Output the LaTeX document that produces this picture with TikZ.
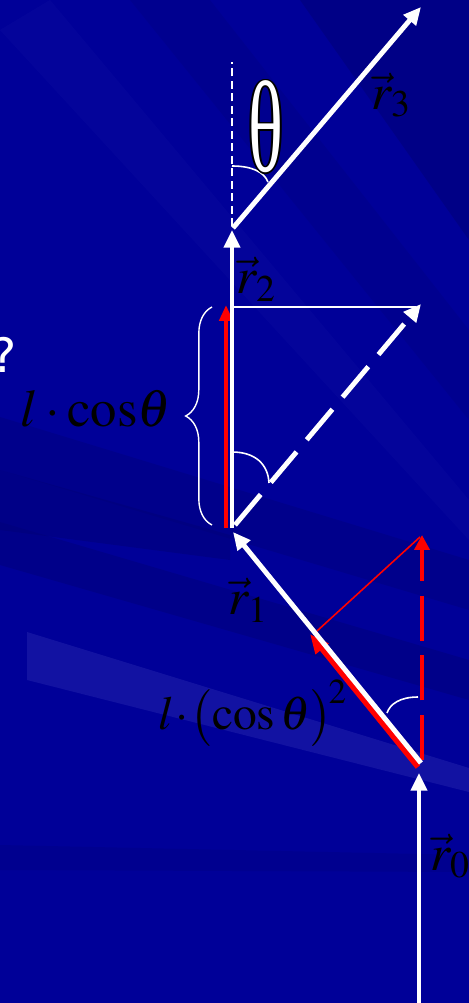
\documentclass[tikz,border=0pt]{standalone}
\usepackage{mathptmx}
\usepackage{fontspec}
\setmainfont{Liberation Serif}
\newfontfamily\qfont{DejaVu Sans}
\newfontfamily\thfont{Liberation Serif}
\usetikzlibrary{arrows.meta,decorations.pathreplacing}
\definecolor{bgblue}{RGB}{0,0,152}
\definecolor{bgdark}{RGB}{0,0,120}
\definecolor{bglight}{RGB}{40,40,175}
\newcommand\bigtxt{\fontsize{29}{32}\selectfont}
\newcommand\vr[1]{\vec{r}_{#1}}
\begin{document}
\begin{tikzpicture}[x=0.02cm,y=-0.02cm,
  wvec/.style={draw=white,line width=2.8pt,-{Triangle[length=10pt,width=9pt]}},
  rvec/.style={draw=red,line width=2.8pt},
  thin white/.style={draw=white,line width=1.1pt},
  anglearc/.style={draw=white,line width=0.9pt},
  lbl/.style={text=black,font=\bigtxt,inner sep=0pt}]
\useasboundingbox (0,0) rectangle (469,1003);
\clip (0,0) rectangle (469,1003);
% background
\fill[bgblue] (0,0) rectangle (469,1003);
\fill[bgdark,opacity=0.55] (300,0) -- (469,0) -- (469,240) -- cycle;
\fill[bgdark,opacity=0.25] (130,0) -- (210,0) -- (469,330) -- (469,420) -- cycle;
\fill[bglight,opacity=0.12] (0,30) -- (50,0) -- (469,500) -- (469,540) -- cycle;
\fill[bgdark,opacity=0.4] (0,417) -- (469,560) -- (469,610) -- (0,470) -- cycle;
\fill[bgdark,opacity=0.5] (0,470) -- (230,535) -- (230,560) -- (0,530) -- cycle;
\fill[bgdark,opacity=0.45] (0,522) -- (469,660) -- (469,700) -- (0,565) -- cycle;
\fill[bglight,opacity=0.45] (27,632) -- (469,768) -- (469,792) -- (27,680) -- cycle;
\fill[bgdark,opacity=0.25] (0,845) -- (469,855) -- (469,872) -- (0,870) -- cycle;
% coordinates
\coordinate (O0) at (419,1010);
\coordinate (T0) at (419,773);
\coordinate (B) at (421,763);
\coordinate (T1) at (233,532);
\coordinate (C) at (232,528);
\coordinate (T2) at (232,230);
\coordinate (D) at (233,228);
\coordinate (T3) at (421,7);
\coordinate (Vt) at (232,62);
\coordinate (Vb) at (232,226);
\coordinate (H1) at (233,307);
\coordinate (H2) at (416,307);
\coordinate (W1) at (235,525);
\coordinate (W2) at (421,304);
\coordinate (R1) at (226,528);
\coordinate (R2) at (226,305);
\coordinate (S1) at (418,767);
\coordinate (S2) at (310,634);
\coordinate (Q1) at (422,760);
\coordinate (Q2) at (422,535);
\coordinate (N1) at (317,631);
\coordinate (N2) at (420,537);
\coordinate (BrB) at (212,525);
\coordinate (BrT) at (212,307);
% dashed vertical reference line
\draw[white,line width=0.9pt,dash pattern=on 4.5pt off 2.6pt] (Vb) -- (Vt);
% horizontal thin line
\draw[thin white] (H1) -- (H2);
% red components
\draw[rvec,-{Triangle[length=9pt,width=7.4pt]}] (R1) -- (R2);
\draw[rvec,line width=3.2pt,-{Triangle[length=11pt,width=9pt]}] (S1) -- (S2);
\draw[rvec,dash pattern=on 25.5pt off 8.5pt,-{Triangle[length=8.5pt,width=8.5pt]}] (Q1) -- (Q2);
\draw[red,line width=0.9pt] (N1) -- (N2);
% white vectors
\draw[wvec] (O0) -- (T0);
\draw[wvec] (B) -- (T1);
\draw[wvec,line width=2.4pt] (C) -- (T2);
\draw[wvec] (D) -- (T3);
\draw[wvec,dash pattern=on 22.7pt off 9pt] (W1) -- (W2);
% angle arcs
\draw[anglearc] (232,166) .. controls (252,166) and (264,172) .. (268,182);
\draw[anglearc] (232,452) .. controls (255,452) and (268,464) .. (269,483);
\draw[anglearc] (418,697) .. controls (400,697) and (390,704) .. (387,713);
% brace
\draw[white,line width=0.8pt,decorate,decoration={brace,amplitude=15pt,aspect=0.5}] (BrB) -- (BrT);
% labels
\node[lbl] (l3) at (391,95) {$\vr{3}$};
\node[lbl] (l2) at (256,279) {$\vr{2}$};
\node[lbl] (l1) at (248,600) {$\vr{1}$};
\node[lbl] (l0) at (450,856) {$\vr{0}$};
\node[lbl,font=\fontsize{30}{32}\selectfont] (lc) at (96,409) {$l\cdot\mathrm{cos}\theta$};
\node[lbl,font=\fontsize{27}{30}\selectfont] (lc2) at (253,713) {$l\mkern-2mu\cdot\mkern-2mu\bigl(\cos\theta\bigr)^{\!2}$};
\node[text=white,font=\qfont\fontsize{27}{30}\selectfont,inner sep=0pt,anchor=east] (q) at (17,355) {?};
% outlined theta
\foreach \dx/\dy in {-0.9/0,0.9/0,0/-0.9,0/0.9,-0.65/-0.65,0.65/0.65,-0.65/0.65,0.65/-0.65}
  \node[text=black,inner sep=0pt,font=\thfont\fontsize{74}{76}\selectfont] at ([xshift=\dx pt,yshift=\dy pt]266,127) {\scalebox{0.56}[1]{θ}};
\node[text=white,inner sep=0pt,font=\thfont\fontsize{74}{76}\selectfont] (th) at (266,127) {\scalebox{0.56}[1]{θ}};
\end{tikzpicture}
\end{document}
